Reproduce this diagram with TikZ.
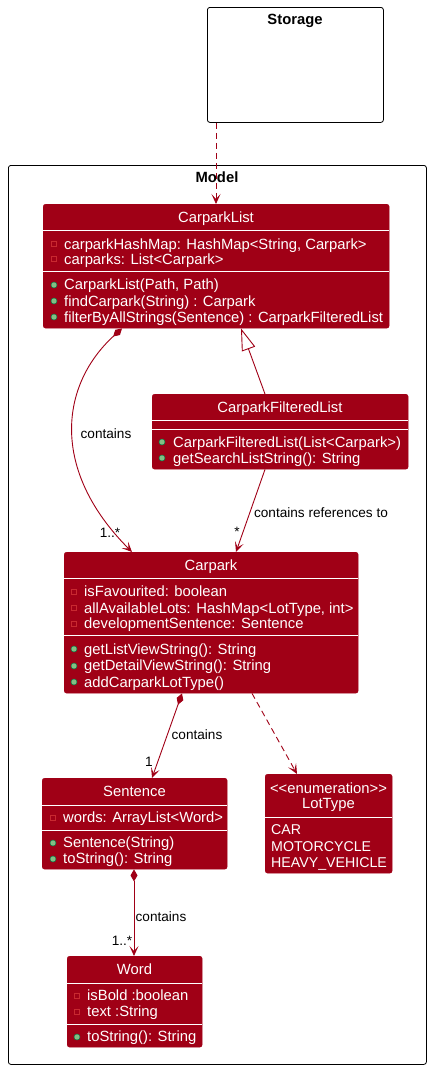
\documentclass[tikz,border=0pt]{standalone}
\usepackage{fontspec}
\setmainfont{Liberation Sans}
\usetikzlibrary{arrows.meta,calc}
\definecolor{pr}{RGB}{160,0,22}
\definecolor{privc}{RGB}{200,41,48}
\definecolor{pubfill}{RGB}{132,190,132}
\definecolor{pubdraw}{RGB}{3,128,72}
\tikzset{
  classbox/.style={draw=pr, fill=pr, rounded corners=2.5pt, inner sep=0pt, anchor=north west},
  pkg/.style={draw=black, line width=0.8pt, rounded corners=2.5pt, inner sep=0pt, anchor=north west},
  pkgtitle/.style={anchor=base, inner sep=0pt, font=\fontsize{14.8}{16}\selectfont\bfseries},
  sepline/.style={draw=white, line width=0.8pt},
  title/.style={anchor=base, inner sep=0pt, text=white, font=\fontsize{14.8}{16}\selectfont},
  member/.style={anchor=base west, inner sep=0pt, text=white, font=\fontsize{14.8}{16}\selectfont},
  enumval/.style={member, font=\fontsize{14.2}{16}\selectfont},
  privicon/.style={draw=privc, line width=0.7pt, rectangle, minimum size=5.5pt, inner sep=0pt},
  pubicon/.style={draw=pubdraw, fill=pubfill, line width=0.5pt, circle, minimum size=6pt, inner sep=0pt},
  elabel/.style={anchor=base, inner sep=0pt, text=black, font=\fontsize{13.6}{15}\selectfont},
  conn/.style={draw=pr, line width=0.9pt},
  headtip/.style={-{Stealth[length=10pt,width=9pt,inset=5pt]}},
  comp/.style={{Diamond[length=12pt,width=7pt]}-{Stealth[length=10pt,width=9pt,inset=5pt]}},
  depline/.style={dash pattern=on 6pt off 4pt}
}
\begin{document}
\begin{tikzpicture}[x=1pt,y=-1pt]
\useasboundingbox (0,0) rectangle (431,1071);

% packages
\node[pkg, minimum width=176pt, minimum height=115pt] (storage) at (207,7) {};
\node[pkgtitle] (storaget) at (295,24) {Storage};
\node[pkg, minimum width=418pt, minimum height=899pt] (model) at (8,165) {};
\node[pkgtitle] (modelt) at (217,182) {Model};

% CarparkList
\node[classbox, minimum width=346pt, minimum height=124pt] (cl) at (43,204) {};
\node[title] at (216,222) {CarparkList};
\draw[sepline] (43,230) -- (389,230);
\node[privicon] at (54,244) {};
\node[member] at (64,249) {carparkHashMap: HashMap<String, Carpark>};
\node[privicon] at (54,259) {};
\node[member] at (64,264) {carparks: List<Carpark>};
\draw[sepline] (43,271) -- (389,271);
\node[pubicon] at (54,285) {};
\node[member] at (64,289) {CarparkList(Path, Path)};
\node[pubicon] at (54,301) {};
\node[member] at (64,306) {findCarpark(String) : Carpark};
\node[pubicon] at (54,317) {};
\node[member] at (64,322) {filterByAllStrings(Sentence) : CarparkFilteredList};

% CarparkFilteredList
\node[classbox, minimum width=256pt, minimum height=75pt] (cfl) at (152,394) {};
\node[title] at (280,412) {CarparkFilteredList};
\draw[sepline] (152,420) -- (408,420);
\draw[sepline] (152,429) -- (408,429);
\node[pubicon] at (162,442) {};
\node[member] at (173,447) {CarparkFilteredList(List<Carpark>)};
\node[pubicon] at (162,458) {};
\node[member] at (173,463) {getSearchListString(): String};

% Carpark
\node[classbox, minimum width=294pt, minimum height=141pt] (carpark) at (64,552) {};
\node[title] at (211,570) {Carpark};
\draw[sepline] (64,578) -- (358,578);
\node[privicon] at (74,592) {};
\node[member] at (84,596) {isFavourited: boolean};
\node[privicon] at (74,608) {};
\node[member] at (84,613) {allAvailableLots: HashMap<LotType, int>};
\node[privicon] at (74,624) {};
\node[member] at (84,628) {developmentSentence: Sentence};
\draw[sepline] (64,635) -- (358,635);
\node[pubicon] at (74,649) {};
\node[member] at (84,654) {getListViewString(): String};
\node[pubicon] at (74,666) {};
\node[member] at (84,670) {getDetailViewString(): String};
\node[pubicon] at (74,682) {};
\node[member] at (84,687) {addCarparkLotType()};

% Sentence
\node[classbox, minimum width=185pt, minimum height=91pt] (sentence) at (42,778) {};
\node[title] at (134.5,796) {Sentence};
\draw[sepline] (42,805) -- (227,805);
\node[privicon] at (53,818) {};
\node[member] at (63,822) {words: ArrayList<Word>};
\draw[sepline] (42,830) -- (227,830);
\node[pubicon] at (53,843) {};
\node[member] at (63,847) {Sentence(String)};
\node[pubicon] at (53,859) {};
\node[member] at (63,863) {toString(): String};

% LotType
\node[classbox, minimum width=127pt, minimum height=99pt] (lot) at (265,774) {};
\node[title] at (328.5,793) {<{}<enumeration>{}>};
\node[title] at (328.5,808) {LotType};
\draw[sepline] (265,817) -- (392,817);
\node[enumval] at (271,834) {CAR};
\node[enumval] at (271,851) {MOTORCYCLE};
\node[enumval] at (271,867) {HEAVY\_VEHICLE};

% Word
\node[classbox, minimum width=135pt, minimum height=91pt] (word) at (67,956) {};
\node[title] at (134.5,974) {Word};
\draw[sepline] (67,983) -- (202,983);
\node[privicon] at (77,996) {};
\node[member] at (87,1000) {isBold :boolean};
\node[privicon] at (77,1012) {};
\node[member] at (87,1016) {text :String};
\draw[sepline] (67,1024) -- (202,1024);
\node[pubicon] at (77,1037) {};
\node[member] at (87,1041) {toString(): String};

% connectors
\draw[conn, depline, headtip] ($(storage.south west)+(9,0)$) -- ($(cl.north west)+(173,0)$);
\draw[conn, -{Triangle[open,length=22pt,width=14pt,fill=white]}] ($(cfl.north west)+(113,0)$) -- ($(cl.south west)+(198,0)$);
\draw[conn, comp] ($(cl.south west)+(79,0)$) .. controls (60,385) and (50,470) .. ($(carpark.north west)+(68,0)$);
\draw[conn, headtip] ($(cfl.south west)+(113,0)$) -- ($(carpark.north west)+(172,0)$);
\draw[conn, comp] ($(carpark.south west)+(118,0)$) -- ($(sentence.north west)+(110,0)$);
\draw[conn, depline, headtip] ($(carpark.south west)+(188,0)$) -- ($(lot.north west)+(32,0)$);
\draw[conn, comp] ($(sentence.south west)+(92,0)$) -- ($(word.north west)+(67,0)$);

% labels
\node[elabel] (l1) at (106,438) {contains};
\node[elabel] (l1m) at (110,537) {1..*};
\node[elabel] (l2) at (321,517) {contains references to};
\node[elabel] (l2m) at (237,536) {*};
\node[elabel] (l3) at (197,739) {contains};
\node[elabel] (l3m) at (149,766) {1};
\node[elabel] (l4) at (161,921) {contains};
\node[elabel] (l4m) at (122,945) {1..*};
\end{tikzpicture}
\end{document}
